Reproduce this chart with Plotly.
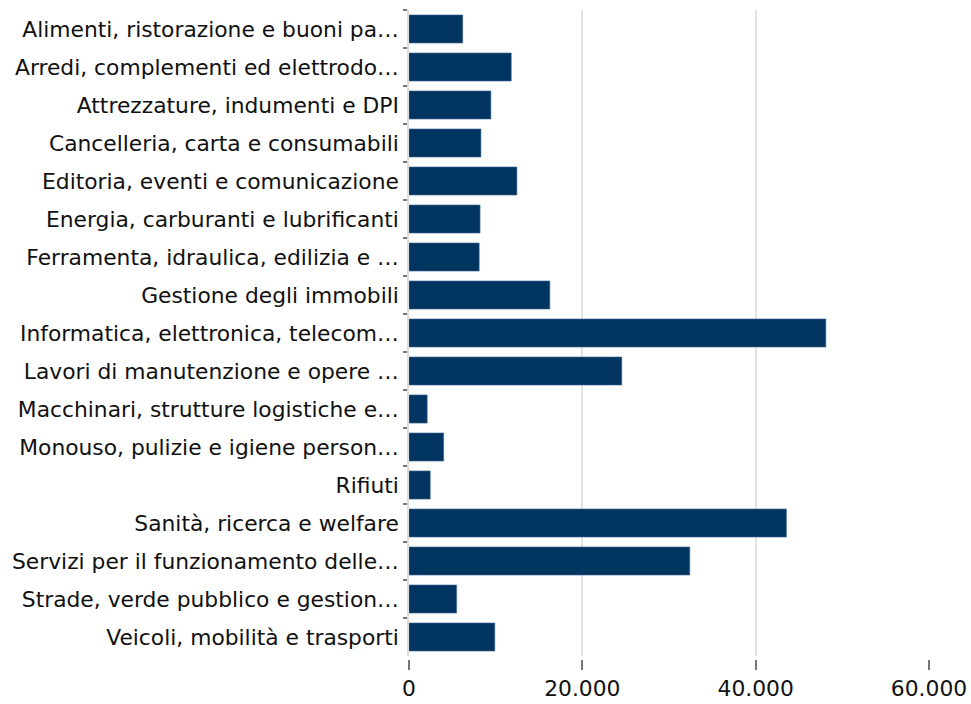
import plotly.graph_objects as go

categories = [
    "Alimenti, ristorazione e buoni pa…",
    "Arredi, complementi ed elettrodo…",
    "Attrezzature, indumenti e DPI",
    "Cancelleria, carta e consumabili",
    "Editoria, eventi e comunicazione",
    "Energia, carburanti e lubrificanti",
    "Ferramenta, idraulica, edilizia e …",
    "Gestione degli immobili",
    "Informatica, elettronica, telecom…",
    "Lavori di manutenzione e opere …",
    "Macchinari, strutture logistiche e…",
    "Monouso, pulizie e igiene person…",
    "Rifiuti",
    "Sanità, ricerca e welfare",
    "Servizi per il funzionamento delle…",
    "Strade, verde pubblico e gestion…",
    "Veicoli, mobilità e trasporti",
]
values = [6200, 11800, 9450, 8300, 12450, 8200, 8100, 16250,
          48100, 24550, 2100, 4000, 2450, 43550, 32400, 5500, 9900]
x_ticks = [0, 20000, 40000, 60000]

fig = go.Figure(go.Bar(
    x=values, y=categories, orientation="h",
    marker=dict(color="#003461", line=dict(color="#4a6f95", width=0.6)),
))

fig.update_layout(
    width=971, height=704,
    margin=dict(l=409, r=42, t=10, b=45),
    plot_bgcolor="white", paper_bgcolor="white",
    separators=",.",
    bargap=0.26,
    showlegend=False,
    font=dict(family="DejaVu Sans", size=21.8, color="#111111"),
    xaxis=dict(
        range=[0, 60000], tickvals=x_ticks, tickformat=",.0f",
        showgrid=True, gridcolor="#e3e3e3", gridwidth=1.5,
        zeroline=False, showline=False,
        ticks="outside", ticklen=10, tickwidth=1.5, tickcolor="#777777",
        anchor="free", position=0, automargin=False,
        tickfont=dict(size=21.8, color="#111111"),
    ),
    yaxis=dict(
        domain=[0.0046, 1],
        autorange="reversed", automargin=False,
        tickson="boundaries",
        ticks="outside", ticklen=4, tickwidth=1.5, tickcolor="#777777",
        showline=True, linecolor="#dddddd", linewidth=1.5,
        showgrid=False,
        ticklabelstandoff=4,
        tickfont=dict(size=21.8, color="#111111"),
    ),
)

fig.write_html("out.html", config={"displayModeBar": False},
               post_script="document.body.style.margin='0';")
